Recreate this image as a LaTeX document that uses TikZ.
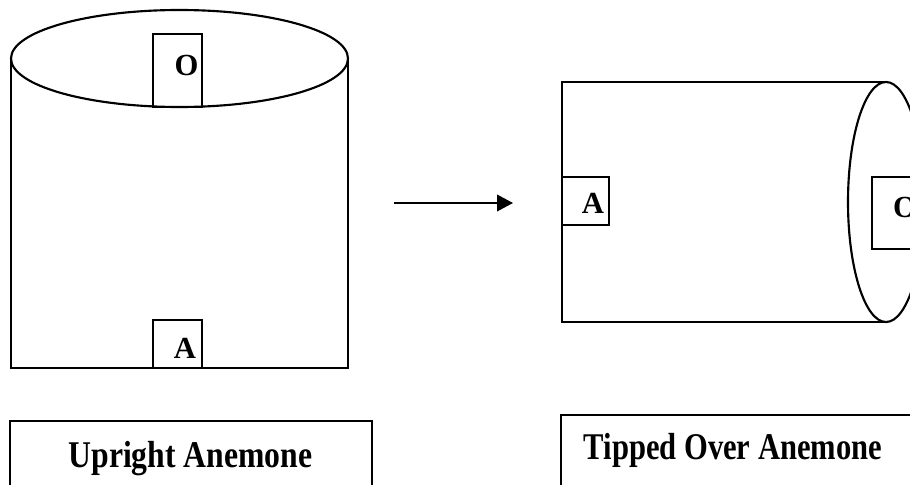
\documentclass[tikz,border=0pt]{standalone}
\usepackage{fontspec}
\setmainfont{Liberation Serif}
\usetikzlibrary{arrows.meta}
\begin{document}
\begin{tikzpicture}[x=0.75pt,y=-0.75pt,
  shapeline/.style={line width=1.6pt, black},
  letter/.style={font=\fontsize{23}{23}\selectfont\bfseries, inner sep=0pt, anchor=base},
  caption/.style={font=\fontsize{28.3}{30}\selectfont\bfseries, inner sep=0pt, anchor=base}]
\useasboundingbox (0,0) rectangle (910,485);
\begin{scope}
\clip (0,0) rectangle (910,485);
% upright anemone
\draw[shapeline] (179.5,58.5) ellipse [x radius=168.5, y radius=48.5];
\draw[shapeline] (11,58.5) -- (11,368) -- (348,368) -- (348,58.5);
\draw[shapeline] (153,34) rectangle (202,107);
\draw[shapeline] (153,320) rectangle (202,368);
\node[letter] (o1) at (186.5,75.5) {O};
\node[letter] (a1) at (185,358) {A};
% arrow
\coordinate (arrS) at (394,203);
\coordinate (arrE) at (513,203);
\draw[line width=1.3pt, -{Triangle[length=12pt,width=12.5pt]}] (arrS) -- (arrE);
% tipped over anemone
\draw[shapeline] (884,82) -- (562,82) -- (562,322) -- (884,322);
\draw[shapeline] (886,202) ellipse [x radius=38, y radius=120];
\draw[shapeline] (562,177) rectangle (609,225);
\draw[shapeline] (872,177) rectangle (921,249);
\node[letter] (a2) at (593,213.5) {A};
\node[letter] (o2) at (905,217.5) {O};
% captions
\draw[shapeline] (10,500) -- (10,421) -- (372,421) -- (372,500);
\draw[shapeline] (561,500) -- (561,415) -- (930,415);
\node[caption] (cap1) at (190.5,467) {\scalebox{0.84}[1]{Upright Anemone}};
\node[caption] (cap2) at (733,459) {\scalebox{0.81}[1]{Tipped Over Anemone}};
\end{scope}
\end{tikzpicture}
\end{document}
